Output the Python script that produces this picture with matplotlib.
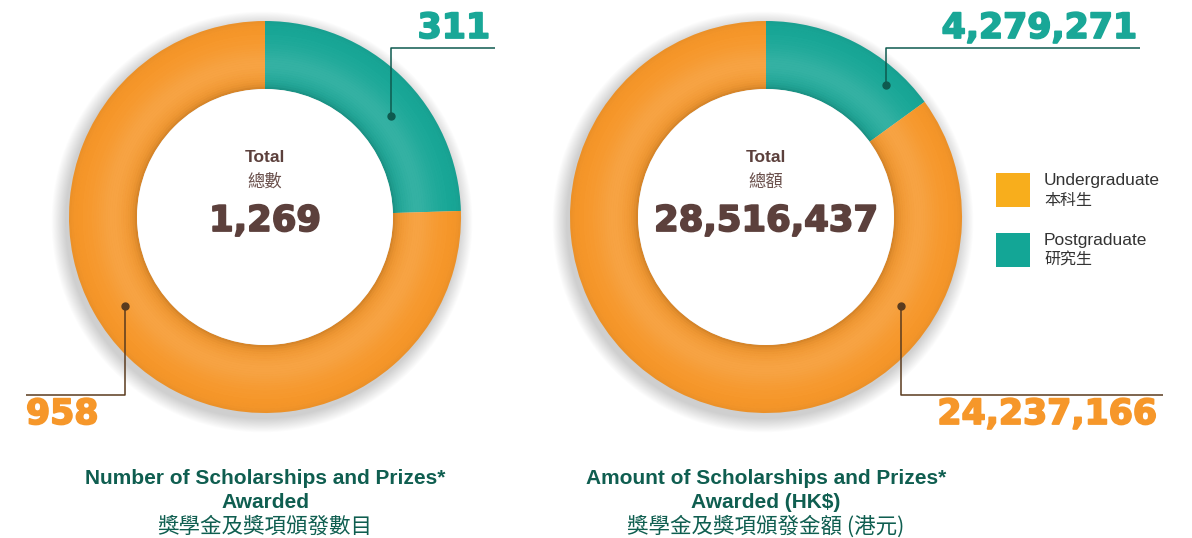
import matplotlib
matplotlib.use("Agg")
import matplotlib.pyplot as plt
import matplotlib.patheffects as pe
from matplotlib.patches import Circle, Wedge
import numpy as np

# ---------------- data ----------------
categories = ["Postgraduate", "Undergraduate"]
categories_cn = ["研究生", "本科生"]
counts = [311, 958]
amounts = [4279271, 24237166]
count_total = 1269
amount_total = 28516437
titles_en = [["Number of Scholarships and Prizes*", "Awarded"],
             ["Amount of Scholarships and Prizes*", "Awarded (HK$)"]]
titles_cn = ["獎學金及獎項頒發數目", "獎學金及獎項頒發金額 (港元)"]
center_cn = ["總數", "總額"]

# ---------------- style ----------------
W, H = 1192, 538
TEAL = "#19a797"
ORANGE = "#f6972a"
LEG_ORANGE = "#f8ae1c"
LEG_TEAL = "#13a696"
BROWN = "#5c403c"
BROWN_L = "#6a504c"
GREEN = "#0f5e50"
TEAL_LINE = "#0e5a4f"
ORANGE_LINE = "#5a3b1e"
LAT = ["Liberation Sans", "Noto Sans CJK TC", "DejaVu Sans"]
NUM = ["DejaVu Sans"]
CJK = ["Noto Sans CJK TC", "Liberation Sans", "DejaVu Sans"]

fig = plt.figure(figsize=(W / 100, H / 100), dpi=100)
ax = fig.add_axes([0, 0, 1, 1])


def Y(p):
    return H - p


R_OUT, R_IN = 196, 128
centers = [(265, Y(217)), (766, Y(217))]
datasets = [counts, amounts]
totals = [count_total, amount_total]


def draw_donut(cx, cy, values):
    # soft drop shadow
    for k in range(16, 0, -1):
        ax.add_patch(Circle((cx - 3, cy - 5), R_OUT + k * 0.9, color="#000000",
                            alpha=0.012, lw=0, zorder=1))
    ax.pie(values, colors=[TEAL, ORANGE], startangle=90, counterclock=False,
           radius=R_OUT, center=(cx, cy), frame=True,
           wedgeprops=dict(width=R_OUT - R_IN, linewidth=0, zorder=2))
    # ring shading: lighter band in the middle, darker near the edges
    n = 30
    for i in range(n):
        r0 = R_IN + (R_OUT - R_IN) * i / n
        w = (R_OUT - R_IN) / n
        t = (i + 0.5) / n
        a_white = 0.12 * np.exp(-((t - 0.35) / 0.28) ** 2)
        ax.add_patch(Wedge((cx, cy), r0 + w, 0, 360, width=w, color="white",
                           alpha=a_white, lw=0, zorder=3))
        a_dark = 0.16 * np.exp(-t / 0.07) + 0.05 * np.exp(-(1 - t) / 0.06)
        ax.add_patch(Wedge((cx, cy), r0 + w, 0, 360, width=w, color="black",
                           alpha=a_dark, lw=0, zorder=3))
    ax.add_patch(Circle((cx, cy), R_IN, color="white", lw=0, zorder=4))


for (cx, cy), vals in zip(centers, datasets):
    draw_donut(cx, cy, vals)


def pol(c, ang, r):
    return c[0] + r * np.cos(np.radians(ang)), c[1] + r * np.sin(np.radians(ang))


def leader(c, ang, r, y_line, x_end, color):
    x0, y0 = pol(c, ang, r)
    ax.plot([x0, x0, x_end], [y0, Y(y_line), Y(y_line)], color=color, lw=1.1,
            zorder=6, solid_capstyle="butt")
    ax.plot([x0], [y0], "o", color=color, ms=5, zorder=7)


def heavy(color, lw=1.3):
    return [pe.withStroke(linewidth=lw, foreground=color)]


def big_label(x, y, s, color, ha):
    ax.text(x, Y(y), s, color=color, fontsize=25, fontweight="bold", family=NUM,
            ha=ha, va="center", zorder=8, path_effects=heavy(color))


# left chart labels
c0, c1 = centers
leader(c0, 38.7, 161, 48, 495, TEAL_LINE)
big_label(490, 28, f"{counts[0]:,}", TEAL, "right")
leader(c0, 212.4, 166, 395, 26, ORANGE_LINE)
big_label(26, 414, f"{counts[1]:,}", ORANGE, "left")

# right chart labels
leader(c1, 47.7, 178, 48, 1140, TEAL_LINE)
big_label(1137, 28, f"{amounts[0]:,}", TEAL, "right")
leader(c1, -33.4, 162, 395, 1163, ORANGE_LINE)
big_label(1157, 414, f"{amounts[1]:,}", ORANGE, "right")

# center texts
for (cx, cy), tot, cn in zip(centers, totals, center_cn):
    ax.text(cx, Y(158), "Total", color=BROWN, fontsize=12.5, fontweight="bold",
            family=LAT, ha="center", va="center", zorder=8)
    ax.text(cx, Y(182), cn, color=BROWN_L, fontsize=12.5, fontweight="medium",
            family=CJK, ha="center", va="center", zorder=8)
    ax.text(cx, Y(221), f"{tot:,}", color=BROWN, fontsize=25.5, fontweight="bold",
            family=NUM, ha="center", va="center", zorder=8,
            path_effects=heavy(BROWN))

# titles
for (cx, cy), en, cn in zip(centers, titles_en, titles_cn):
    ax.text(cx, Y(478), en[0], color=GREEN, fontsize=15, fontweight="bold",
            family=LAT, ha="center", va="center")
    ax.text(cx, Y(502), en[1], color=GREEN, fontsize=15, fontweight="bold",
            family=LAT, ha="center", va="center")
    ax.text(cx, Y(527), cn, color=GREEN, fontsize=15.5, fontweight="medium",
            family=CJK, ha="center", va="center")

# legend
leg = [(LEG_ORANGE, categories[1], categories_cn[1], 190),
       (LEG_TEAL, categories[0], categories_cn[0], 250)]
for col, en, cn, yc in leg:
    ax.add_patch(plt.Rectangle((996, Y(yc + 17)), 34, 34, color=col, lw=0))
    ax.text(1044, Y(yc - 9), en, color="#333333", fontsize=12.5, family=LAT,
            ha="left", va="center")
    ax.text(1044, Y(yc + 10), cn, color="#333333", fontsize=11.5, family=CJK,
            ha="left", va="center")

ax.set_xlim(0, W)
ax.set_ylim(0, H)
ax.set_aspect("auto")
ax.axis("off")
fig.savefig("out.png", dpi=100, facecolor="white")
